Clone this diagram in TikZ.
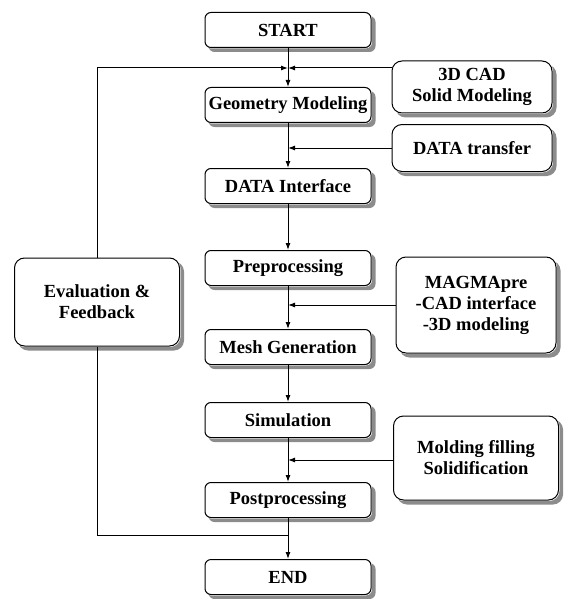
\documentclass[tikz,border=0pt]{standalone}
\usepackage{fontspec}
\setmainfont{Liberation Serif}
\usetikzlibrary{arrows.meta}
\begin{document}
\begin{tikzpicture}[x=1pt,y=-1pt,line width=1pt,font=\fontsize{18.5}{21}\selectfont\bfseries,
stepbox/.style={draw,rounded corners=6pt,fill=white,minimum width=166pt,minimum height=35pt,inner sep=1pt},
sidebox/.style={stepbox,minimum width=160pt,align=center,rounded corners=10pt},
flow/.style={-{Latex[length=7pt,width=5pt]}}]
\useasboundingbox (0,0) rectangle (569,599);
% main chain
\node[stepbox](start)at(288,30){START};
\node[stepbox](geom)at(288,105){Geometry Modeling};
\node[stepbox](iface)at(288,186){DATA Interface};
\node[stepbox](pre)at(288,268){Preprocessing};
\node[stepbox](mesh)at(288,347){Mesh Generation};
\node[stepbox](sim)at(288,420){Simulation};
\node[stepbox](post)at(288,500){Postprocessing};
\node[stepbox](end)at(288,577){END};
% side boxes
\node[sidebox,minimum height=52pt](cad)at(472,87){3D CAD\\Solid Modeling};
\node[sidebox,minimum height=47pt](transfer)at(472,148){DATA transfer};
\node[sidebox,minimum height=96pt](magma)at(476,305){MAGMApre\\-CAD interface\\-3D modeling};
\node[sidebox,minimum width=165pt,minimum height=84pt](mold)at(476,458){Molding filling\\Solidification};
\node[sidebox,minimum width=165pt,minimum height=88pt](eval)at(97,302){Evaluation \&\\Feedback};
% shadows
\foreach \n/\r in {start/6,geom/6,iface/6,pre/6,mesh/6,sim/6,post/6,end/6,cad/10,transfer/10,magma/10,mold/10,eval/10}{
  \begin{scope}[even odd rule,rounded corners=\r pt]
  \clip(0,0)rectangle(569,599)([shift={(.5,.5)}]\n.north west)rectangle([shift={(.5,.5)}]\n.south east);
  \fill[black!45]([shift={(4,4)}]\n.north west)rectangle([shift={(4,4)}]\n.south east);
  \end{scope}}
% joints
\coordinate(j1)at(288,68);
\coordinate(j2)at(288,148);
\coordinate(j3)at(288,305);
\coordinate(j4)at(288,460);
\coordinate(j5)at(288,535);
% connectors
\draw[flow](start)--(geom);
\draw[flow](geom)--(iface);
\draw[flow](iface)--(pre);
\draw[flow](pre)--(mesh);
\draw[flow](mesh)--(sim);
\draw[flow](sim)--(post);
\draw[flow](post)--(end);
\draw[flow](eval.north)|-(j1);
\draw[flow](cad.west|-j1)--(j1);
\draw[flow](transfer.west|-j2)--(j2);
\draw[flow](magma.west|-j3)--(j3);
\draw[flow](mold.west|-j4)--(j4);
\draw(eval.south)|-(j5);
\end{tikzpicture}
\end{document}
